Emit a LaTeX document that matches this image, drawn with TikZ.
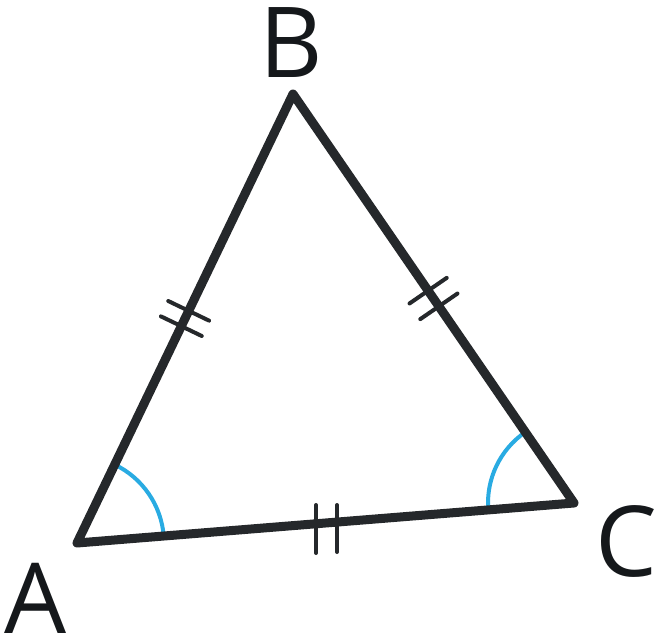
\documentclass[tikz,border=0pt]{standalone}
\usepackage{fontspec}
\setmainfont{Open Sans}
\usetikzlibrary{calc}
\definecolor{edge}{HTML}{25282B}
\definecolor{lbl}{HTML}{15181B}
\definecolor{ang}{HTML}{29ABE2}
\begin{document}
\begin{tikzpicture}[x=1pt,y=-1pt,
  side/.style={draw=edge,line width=9pt,line join=round,line cap=round},
  tickmark/.style={draw=edge,line width=4pt,line cap=round},
  anglearc/.style={draw=ang,line width=4pt},
  vlabel/.style={text=lbl,inner sep=0pt,text depth=0pt,anchor=base,font=\fontsize{98}{100}\selectfont}]
\useasboundingbox (0,0) rectangle (654,637);
\coordinate (A) at (77,543);
\coordinate (B) at (293,94);
\coordinate (C) at (574,503);
% angle arcs
\draw[anglearc] ($(A)!87pt!(C)$) arc[start angle=4.6,end angle=64.3,radius=87pt];
\draw[anglearc] ($(C)!86pt!(A)$) arc[start angle=184.6,end angle=124.5,radius=86pt];
% sides
\draw[side] (A) -- (B) -- (C) -- cycle;
% ticks AB
\draw[tickmark] ($(A)!0.5!(B)!8.5pt!(B)$) ++(-20.4,-9.8) -- ++(40.8,19.6);
\draw[tickmark] ($(A)!0.5!(B)!-8.5pt!(B)$) ++(-20.4,-9.8) -- ++(40.8,19.6);
% ticks BC
\draw[tickmark] ($(B)!0.5!(C)!-9.5pt!(C)$) ++(-18.6,12.8) -- ++(37.2,-25.6);
\draw[tickmark] ($(B)!0.5!(C)!9.5pt!(C)$) ++(-18.6,12.8) -- ++(37.2,-25.6);
% ticks AC
\draw[tickmark] (316,505) -- (316,553);
\draw[tickmark] (337,505) -- (337,552);
% labels
\node[vlabel] (lA) at (36,633) {A};
\node[vlabel] (lB) at (291,77) {B};
\node[vlabel] (lC) at (626,576) {C};
\end{tikzpicture}
\end{document}
